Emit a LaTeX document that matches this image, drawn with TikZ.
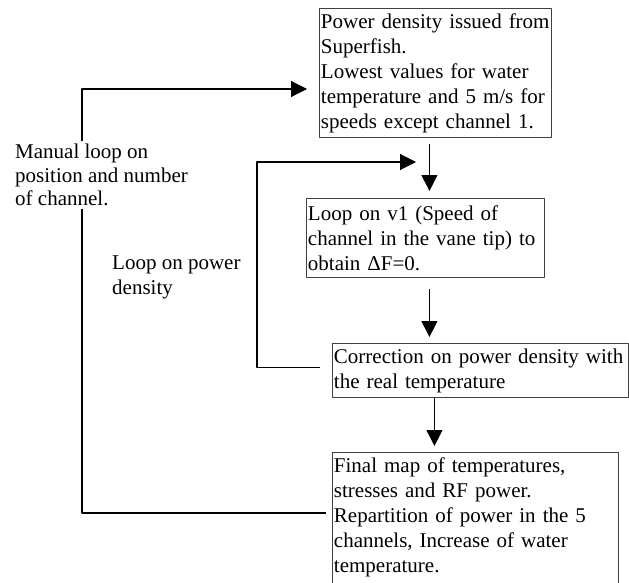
\documentclass[tikz,border=0pt]{standalone}
\usepackage{fontspec}
\setmainfont{Liberation Serif}
\usetikzlibrary{calc,arrows.meta,positioning}

\begin{document}
\begin{tikzpicture}[x=1pt,y=-1pt,line join=round,
	blockbox/.style={draw=black!75,line width=0.9pt,anchor=north west,align=left,
		inner xsep=1.5pt,inner ysep=5pt,font=\fontsize{21}{25}\selectfont},
	looplabel/.style={anchor=north west,align=left,inner sep=3pt},
	flow/.style={line width=1.1pt,-{Triangle[length=16pt,width=16pt]}}]
\useasboundingbox (0,0) rectangle (629,583);
% the four steps
\node[blockbox,text width=229pt] (superfish) at (319,8)
	{Power density issued from\\Superfish.\\Lowest values for water\\temperature and 5 m/s for\\speeds except channel 1.};
\node[blockbox,text width=235pt,minimum height=79pt] (vloop) at (306,198)
	{Loop on v1 (Speed of\\channel in the vane tip) to\\obtain ΔF=0.};
\node[blockbox,text width=293pt] (correction) at (332,343)
	{Correction on power density with\\the real temperature};
\node[blockbox,text width=283pt] (finalmap) at (332,452)
	{Final map of temperatures,\\stresses and RF power.\\Repartition of power in the 5\\channels, Increase of water\\temperature.\\\mbox{}};
\coordinate (pcorner) at (257,162);
\coordinate (pend) at (416,162);
\coordinate (mstart) at (326,513);
\coordinate (mcorner) at (82,89);
\coordinate (mend) at (307,89);
% main flow
\draw[flow] ([xshift=-6pt,yshift=-6pt]superfish.south) -- ([xshift=4pt,yshift=7pt]vloop.north);
\draw[flow] ([xshift=4pt,yshift=-11pt]vloop.south) -- ([xshift=-51pt,yshift=6pt]correction.north);
\draw[flow] ([xshift=-46pt]correction.south) -- ([xshift=-41pt,yshift=6pt]finalmap.north);
% loops
\draw[flow] ([xshift=-12pt,yshift=3pt]correction.west) -| (pcorner) -- (pend);
\draw[flow] (mstart) -| (mcorner) -- (mend);
\node[looplabel,fill=white,font=\fontsize{21}{23.3}\selectfont] (manual) at (12,141)
	{Manual loop on\\position and number\\of channel.};
\node[looplabel,font=\fontsize{21}{25}\selectfont] (powerloop) at (109,253)
	{Loop on power\\density};
\end{tikzpicture}
\end{document}
